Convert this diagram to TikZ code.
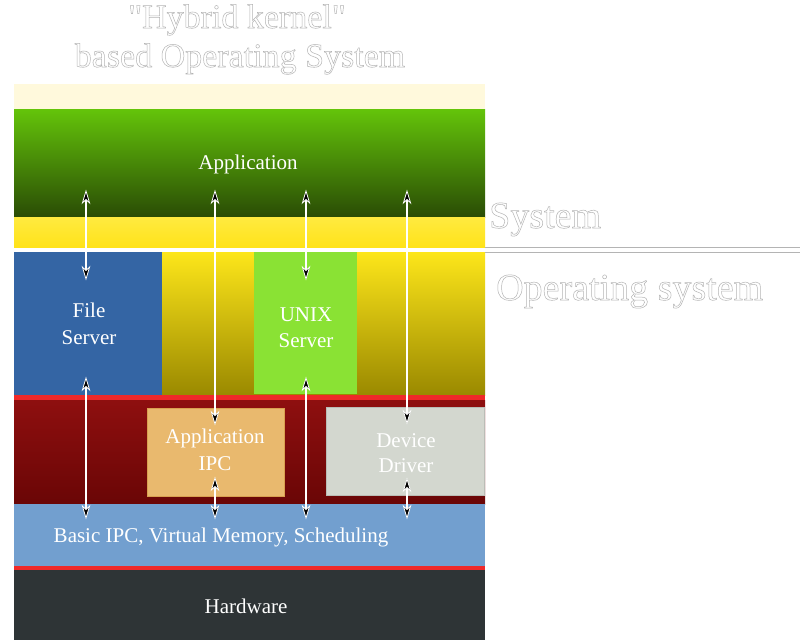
\documentclass[tikz,border=0pt]{standalone}
\usepackage{fontspec}
\setmainfont{Liberation Serif}
\newfontfamily\titlefont[Ligatures=TeXOff]{Liberation Serif}
\definecolor{cream}{HTML}{FFF9DC}
\definecolor{appTop}{HTML}{64C40A}
\definecolor{appBot}{HTML}{2A4C05}
\definecolor{ylwTop}{HTML}{FFEA40}
\definecolor{ylwBot}{HTML}{FFE31A}
\definecolor{osTop}{HTML}{FDE61A}
\definecolor{osBot}{HTML}{9A8900}
\definecolor{fsBlue}{HTML}{3465A4}
\definecolor{unixGreen}{HTML}{8AE234}
\definecolor{scarlet}{HTML}{EF2929}
\definecolor{krTop}{HTML}{8E0F0F}
\definecolor{krBot}{HTML}{6A0606}
\definecolor{ipcOrange}{HTML}{E9B96E}
\definecolor{ipcEdge}{HTML}{D9A050}
\definecolor{ddGray}{HTML}{D3D7CF}
\definecolor{ddEdge}{HTML}{BABDB6}
\definecolor{skyBlue}{HTML}{729FCF}
\definecolor{hwDark}{HTML}{2E3436}
\definecolor{outl}{HTML}{B4B4B4}
\newcommand{\outlinedtext}[1]{\special{pdf:code q 1 Tr 0.5 w}#1\special{pdf:code Q}}
\begin{document}
\begin{tikzpicture}[x=1pt,y=-1pt,
  box/.style={rectangle, inner sep=0pt, outer sep=0pt, anchor=north west, draw=none},
  lbl/.style={text=white, font=\fontsize{21}{26}\selectfont, inner sep=0pt, anchor=base},
  ttl/.style={text=outl, font=\titlefont\fontsize{34}{40}\selectfont, inner sep=0pt, anchor=base},
  side/.style={text=outl, font=\titlefont\fontsize{38}{44}\selectfont, inner sep=0pt, anchor=base west},
  sepline/.style={draw=outl, line width=1pt},
  io/.style={draw=white, line width=1.4pt, shorten <=7pt, shorten >=7pt},
  headstyle/.style={fill=black, draw=white, line width=0.8pt, line join=miter},
  tipup/.pic={\path[headstyle] (0,0) -- (3.6,12) -- (0,8.5) -- (-3.6,12) -- cycle;},
  tipdown/.pic={\path[headstyle] (0,0) -- (3.6,-12) -- (0,-8.5) -- (-3.6,-12) -- cycle;}]
\useasboundingbox (0,0) rectangle (800,641);
\fill[white] (0,0) rectangle (800,641);

% title
\node[ttl] (t1) at (237,28) {\outlinedtext{"Hybrid kernel"}};
\node[ttl] (t2) at (240,67) {\outlinedtext{based Operating System}};

% bands
\node[box, fill=cream, minimum width=471pt, minimum height=25pt] (cream) at (14,84) {};
\node[box, top color=appTop, bottom color=appBot, minimum width=471pt, minimum height=108pt] (app) at (14,109) {};
\node[box, top color=ylwTop, bottom color=ylwBot, minimum width=471pt, minimum height=30pt] (sys) at (14,217) {};
\node[box, top color=osTop, bottom color=osBot, minimum width=471pt, minimum height=143pt] (os) at (14,252) {};
\node[box, fill=fsBlue, minimum width=148pt, minimum height=143pt] (fs) at (14,252) {};
\node[box, fill=unixGreen, minimum width=103pt, minimum height=142pt] (unix) at (254,252) {};
\node[box, fill=scarlet, minimum width=471pt, minimum height=5pt] (redA) at (14,395) {};
\node[box, top color=krTop, bottom color=krBot, minimum width=471pt, minimum height=104pt] (kern) at (14,400) {};
\node[box, fill=ipcOrange, draw=ipcEdge, line width=0.8pt, minimum width=137pt, minimum height=88pt] (ipc) at (147,408) {};
\node[box, fill=ddGray, draw=ddEdge, line width=0.8pt, minimum width=158pt, minimum height=88pt] (dd) at (326.5,407) {};
\node[box, fill=skyBlue, minimum width=471pt, minimum height=62pt] (basic) at (14,504) {};
\node[box, fill=scarlet, minimum width=471pt, minimum height=4pt] (redB) at (14,566) {};
\node[box, fill=hwDark, minimum width=471pt, minimum height=70pt] (hw) at (14,570) {};

% separator lines and side labels
\coordinate (s1a) at (485,247); \coordinate (s1b) at (800,247);
\coordinate (s2a) at (485,252); \coordinate (s2b) at (800,252);
\draw[sepline] (s1a) -- (s1b);
\draw[sepline] (s2a) -- (s2b);
\node[side] (lsys) at (489,228) {\outlinedtext{System}};
\node[side] (los) at (496,300) {\outlinedtext{Operating system}};

% labels
\node[lbl] (lapp) at (248,169) {Application};
\node[lbl] (lfs1) at (89,317) {File};
\node[lbl] (lfs2) at (89,344) {Server};
\node[lbl] (lux1) at (306,321) {UNIX};
\node[lbl] (lux2) at (306,347) {Server};
\node[lbl] (lipc1) at (215,443) {Application};
\node[lbl] (lipc2) at (215,470) {IPC};
\node[lbl] (ldd1) at (406,447) {Device};
\node[lbl] (ldd2) at (406,472) {Driver};
\node[lbl] (lbasic) at (221,542) {Basic IPC, Virtual Memory, Scheduling};
\node[lbl] (lhw) at (246,613) {Hardware};

% arrow end points (tips)
\coordinate (a1t) at (86,191);  \coordinate (a1m) at (86,279);
\coordinate (a1u) at (86,378);  \coordinate (a1b) at (86,518);
\coordinate (a2t) at (215,191); \coordinate (a2m) at (215,424);
\coordinate (a2u) at (215,478); \coordinate (a2b) at (215,518);
\coordinate (a3t) at (306,191); \coordinate (a3m) at (306,279);
\coordinate (a3u) at (306,378); \coordinate (a3b) at (306,518);
\coordinate (a4t) at (407,191); \coordinate (a4m) at (407,423);
\coordinate (a4u) at (407,479); \coordinate (a4b) at (407,518);

\draw[io] (a1t) -- (a1m);
\draw[io] (a1u) -- (a1b);
\draw[io] (a2t) -- (a2m);
\draw[io] (a2u) -- (a2b);
\draw[io] (a3t) -- (a3m);
\draw[io] (a3u) -- (a3b);
\draw[io] (a4t) -- (a4m);
\draw[io] (a4u) -- (a4b);

\foreach \p in {a1t,a1u,a2t,a2u,a3t,a3u,a4t,a4u} {\pic at (\p) {tipup};}
\foreach \p in {a1m,a1b,a2m,a2b,a3m,a3b,a4m,a4b} {\pic at (\p) {tipdown};}
\end{tikzpicture}
\end{document}
